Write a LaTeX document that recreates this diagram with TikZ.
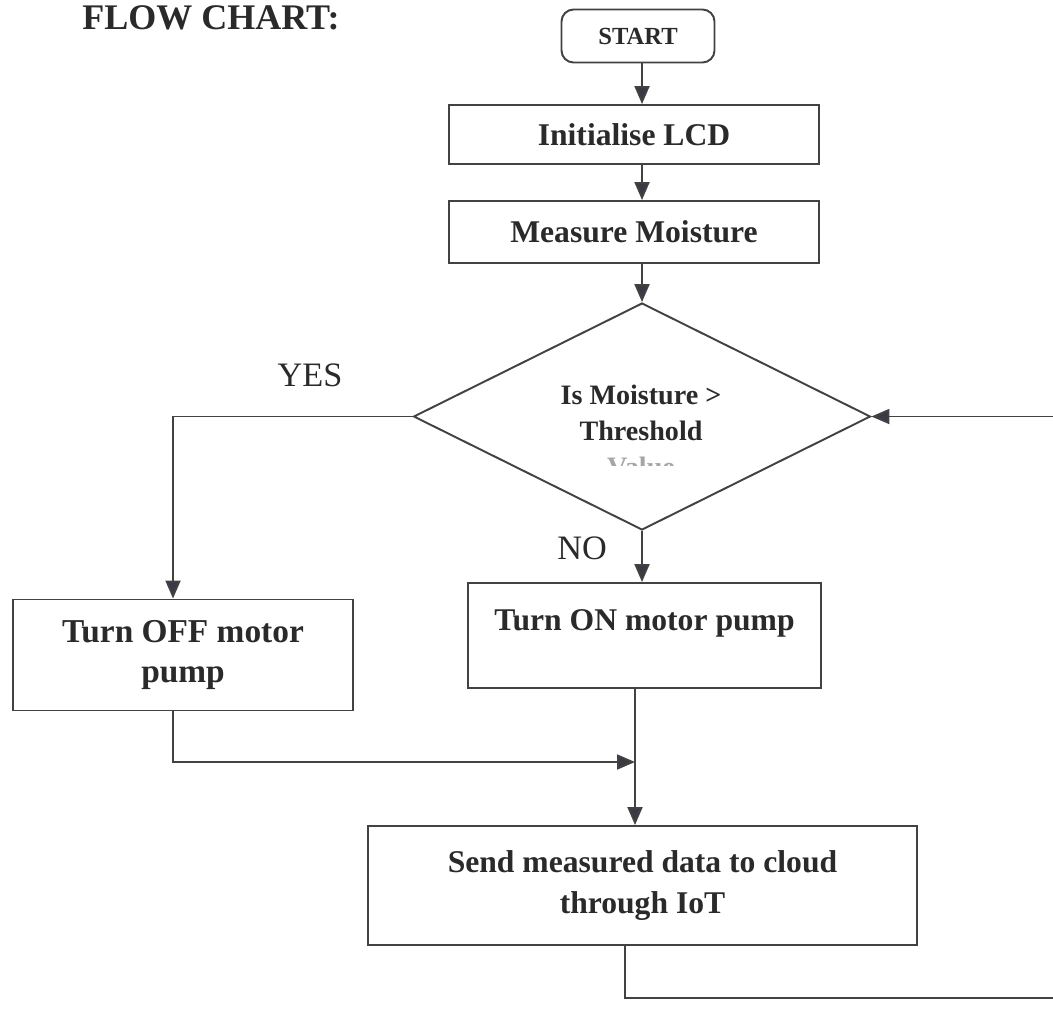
\documentclass[tikz,border=0pt]{standalone}
\usepackage{fontspec}
\setmainfont{Liberation Serif}
\usetikzlibrary{arrows.meta,shapes.geometric,calc}
\definecolor{ln}{HTML}{424242}
\definecolor{tx}{HTML}{2A2A2A}
\definecolor{tip}{HTML}{3A3A46}
\begin{document}
\begin{tikzpicture}[x=0.02cm,y=-0.02cm,
  box/.style={draw=ln, line width=1.1pt, rectangle, inner sep=0pt, text=tx, align=center,
    font=\bfseries\fontsize{18}{22.8}\selectfont},
  arr/.style={draw=ln, line width=1.1pt, -{Triangle[length=0.36cm,width=0.3cm,fill=tip]}},
  lbl/.style={font=\fontsize{19.5}{22}\selectfont, text=tx, inner sep=0pt},
  qtext/.style={font=\bfseries\fontsize{16}{19}\selectfont, text=tx, inner sep=0pt, anchor=base}
]
\useasboundingbox (0,0) rectangle (1053,1008);
\clip (0,0) rectangle (1053,1008);
\fill[white] (0,0) rectangle (1053,1008);

% helper coordinates
\coordinate (sp) at (642,0);
\coordinate (yl) at (173,0);
\coordinate (m) at (635,762);
\coordinate (lv) at (625,0);
\coordinate (br) at (1075,998);

% title
\node[font=\bfseries\fontsize{20.5}{24}\selectfont, text=tx, inner sep=0pt, anchor=base west] (title) at (82,29) {FLOW CHART:};

% nodes
\node[box, rounded corners=0.24cm, minimum width=3.06cm, minimum height=1.06cm,
  font=\bfseries\fontsize{14}{17}\selectfont] (start) at (638,36) {START};
\node[box, minimum width=7.4cm, minimum height=1.18cm] (init) at (634,134.5) {Initialise LCD};
\node[box, minimum width=7.4cm, minimum height=1.24cm] (meas) at (634,232) {Measure Moisture};
\node[draw=ln, line width=1.1pt, diamond, inner sep=0pt, minimum width=9.14cm, minimum height=4.54cm] (dia) at (642,416.5) {};
\node[qtext] (q1) at (641,404) {Is Moisture >};
\node[qtext] (q2) at (641,440) {Threshold};
\begin{scope}
  \clip (520,450) rectangle (760,465);
  \node[qtext, text=gray!70] (q3) at (641,476) {Value};
\end{scope}

\node[box, minimum width=7.06cm, minimum height=2.1cm,
  label={[anchor=base, yshift=-0.96cm, font=\bfseries\fontsize{18}{22}\selectfont, text=tx, inner sep=0pt]north:Turn ON motor pump}] (on) at (644.5,635.5) {};
\node[box, minimum width=6.8cm, minimum height=2.22cm,
  font=\bfseries\fontsize{19}{22.8}\selectfont] (off) at (183,655) {Turn OFF motor\\pump};
\node[box, minimum width=10.98cm, minimum height=2.38cm] (send) at (642.5,885.5) {Send measured data to cloud\\through IoT};

% labels
\node[lbl] (yes) at (310,375) {YES};
\node[lbl] (no) at (582,548) {NO};

% connectors
\draw[arr] (start.south -| sp) -- (init.north -| sp);
\draw[arr] (init.south -| sp) -- (meas.north -| sp);
\draw[arr] (meas.south -| sp) -- (dia.north);
\draw[arr] (dia.south) -- (on.north -| dia.south);
\draw[arr] (dia.west) -| (off.north -| yl);
\draw[arr] (off.south -| yl) |- (m);
\draw[arr] (on.south -| m) -- (send.north -| m);
\draw[arr] (send.south -| lv) |- (br) |- (dia.east);
\end{tikzpicture}
\end{document}
